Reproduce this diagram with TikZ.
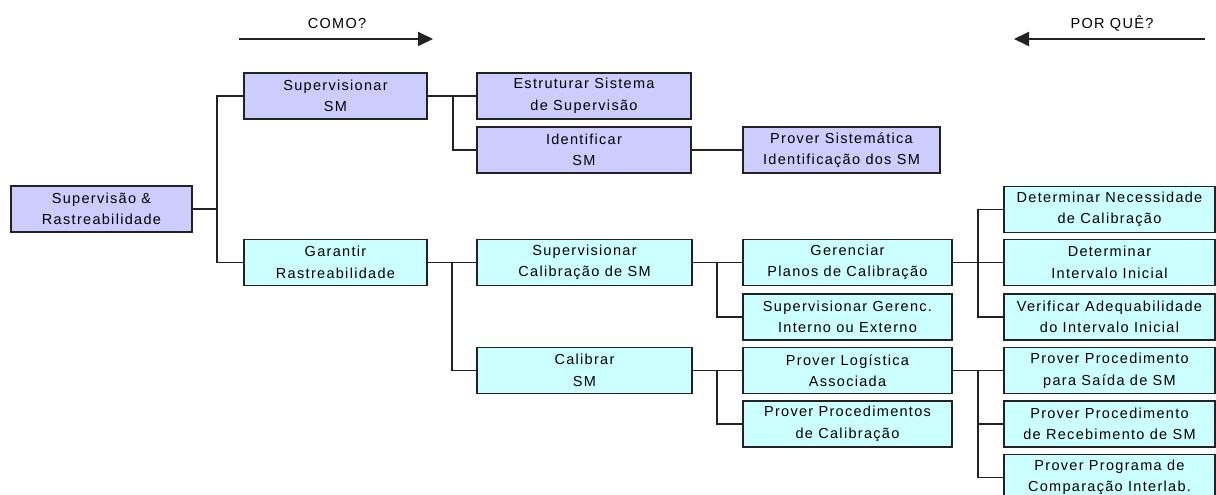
\documentclass[tikz,border=0pt]{standalone}
\usepackage{fontspec}
\usetikzlibrary{arrows.meta}
\newfontfamily\boxfont[LetterSpace=9]{Liberation Sans}
\definecolor{lav}{HTML}{CCCCFF}
\definecolor{aqua}{HTML}{CCFFFF}
\definecolor{ink}{HTML}{222222}
\begin{document}
\begin{tikzpicture}[x=1pt,y=-1pt,
  box/.style={draw=ink,line width=1.6pt,rectangle,inner sep=0pt,
    minimum height=46pt,align=center,font={\boxfont\fontsize{14.5}{21.5}\selectfont}},
  boxA/.style={box,fill=lav},
  boxB/.style={box,fill=aqua},
  link/.style={draw=ink,line width=1.4pt},
  flow/.style={draw=ink,line width=2pt,-{Triangle[length=15pt,width=14pt]}},
  head/.style={font={\boxfont\fontsize{14.5}{16}\selectfont}}]
\useasboundingbox (0,0) rectangle (1216,495);
\clip (0,0) rectangle (1216,495);
\fill[white] (0,0) rectangle (1216,495);

% direction arrows
\node[head] (como) at (337,24) {COMO?};
\coordinate (comoA) at (239,39);
\coordinate (comoB) at (433,39);
\draw[flow] (comoA) -- (comoB);
\node[head] (porque) at (1112,24) {POR QUÊ?};
\coordinate (porA) at (1205,39);
\coordinate (porB) at (1014,39);
\draw[flow] (porA) -- (porB);

% level 0
\node[boxA,minimum width=181pt] (root) at (101.5,209) {Supervisão \&\\Rastreabilidade};
% level 1
\node[boxA,minimum width=183pt] (supSM) at (335.5,96) {Supervisionar\\SM};
\node[boxB,minimum width=183pt] (gar) at (335.5,262.5) {Garantir\\Rastreabilidade};
% level 2
\node[boxA,minimum width=214pt] (estr) at (584,96) {Estruturar Sistema\\de Supervisão};
\node[boxA,minimum width=214pt] (ident) at (584,150) {Identificar\\SM};
\node[boxB,minimum width=215pt] (supCal) at (584.5,262.5) {Supervisionar\\Calibração de SM};
\node[boxB,minimum width=215pt] (calib) at (584.5,370.5) {Calibrar\\SM};
% level 3
\node[boxA,minimum width=197pt] (provSist) at (841.5,150) {Prover Sistemática\\Identificação dos SM};
\node[boxB,minimum width=209pt] (geren) at (847.5,262.5) {Gerenciar\\Planos de Calibração};
\node[boxB,minimum width=209pt] (supGer) at (847.5,317) {Supervisionar Gerenc.\\Interno ou Externo};
\node[boxB,minimum width=209pt] (provLog) at (847.5,370.5) {Prover Logística\\Associada};
\node[boxB,minimum width=209pt] (provProc) at (847.5,424) {Prover Procedimentos\\de Calibração};
% level 4
\node[boxB,minimum width=211pt] (detNec) at (1109.5,209.5) {Determinar Necessidade\\de Calibração};
\node[boxB,minimum width=211pt] (detInt) at (1109.5,262.5) {Determinar\\Intervalo Inicial};
\node[boxB,minimum width=211pt] (verif) at (1109.5,317) {Verificar Adequabilidade\\do Intervalo Inicial};
\node[boxB,minimum width=211pt] (saida) at (1109.5,370.5) {Prover Procedimento\\para Saída de SM};
\node[boxB,minimum width=211pt] (receb) at (1109.5,424) {Prover Procedimento\\de Recebimento de SM};
\node[boxB,minimum width=211pt] (interlab) at (1109.5,477.5) {Prover Programa de\\Comparação Interlab.};

% junction points of the tree
\coordinate (j0) at (217,209);
\coordinate (j1) at (453,96);
\coordinate (j2) at (452,262.5);
\coordinate (j3) at (717,262.5);
\coordinate (j4) at (717,370.5);
\coordinate (j5) at (978,262.5);
\coordinate (j6) at (978,370.5);

\draw[link] (root.east) -- (j0) |- (supSM.west);
\draw[link] (j0) |- (gar.west);
\draw[link] (supSM.east) -- (estr.west);
\draw[link] (j1) |- (ident.west);
\draw[link] (ident.east) -- (provSist.west);
\draw[link] (gar.east) -- (supCal.west);
\draw[link] (j2) |- (calib.west);
\draw[link] (supCal.east) -- (geren.west);
\draw[link] (j3) |- (supGer.west);
\draw[link] (calib.east) -- (provLog.west);
\draw[link] (j4) |- (provProc.west);
\draw[link] (geren.east) -- (detInt.west);
\draw[link] (j5) |- (detNec.west);
\draw[link] (j5) |- (verif.west);
\draw[link] (provLog.east) -- (saida.west);
\draw[link] (j6) |- (receb.west);
\draw[link] (j6) |- (interlab.west);
\end{tikzpicture}
\end{document}
